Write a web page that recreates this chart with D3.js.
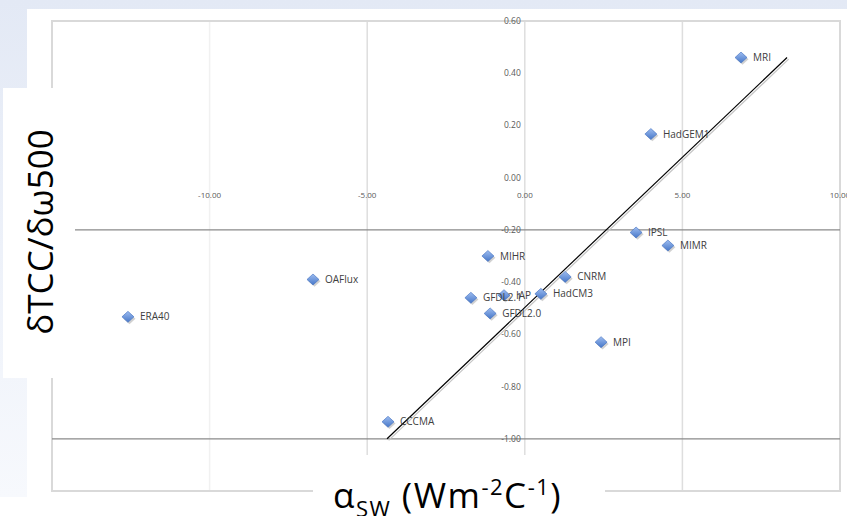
<!DOCTYPE html>
<html>
<head>
<meta charset="utf-8">
<script src="https://cdn.jsdelivr.net/npm/d3@7/dist/d3.min.js"></script>
<style>
  html, body { margin: 0; padding: 0; background: #fff; }
  svg { display: block; }
</style>
</head>
<body>
<div id="chart"></div>
<script>
// model names and values
var models = ["MRI", "HadGEM1", "IPSL", "MIMR", "MIHR", "OAFlux", "CNRM", "IAP", "GFDL2.1", "HadCM3", "GFDL2.0", "ERA40", "MPI", "CCCMA"];
var alphaSW = [6.86, 4.00, 3.53, 4.54, -1.17, -6.72, 1.28, -0.66, -1.71, 0.51, -1.10, -12.59, 2.42, -4.34];
var dTCC = [0.46, 0.167, -0.21, -0.26, -0.30, -0.39, -0.38, -0.45, -0.46, -0.445, -0.52, -0.533, -0.63, -0.935];

// trend line end points
var trendX = [-4.37, 8.32];
var trendY = [-1.00, 0.46];

var xTicks = [-10, -5, 0, 5, 10];
var yTicks = [0.6, 0.4, 0.2, 0.0, -0.2, -0.4, -0.6, -0.8, -1.0];
var refLines = [-0.2, -1.0];

var width = 847
var height = 516

var svg = d3.select("#chart")
  .append("svg")
    .attr("width", width)
    .attr("height", height)

var defs = svg.append("defs")

// pale blue slide background on the top left
var bg = defs.append("linearGradient").attr("id", "bg").attr("x1", 0).attr("y1", 0).attr("x2", 0).attr("y2", 1)
bg.append("stop").attr("offset", "0%").attr("stop-color", "#e3e9f5")
bg.append("stop").attr("offset", "100%").attr("stop-color", "#f7f9fd")

var dia = defs.append("linearGradient").attr("id", "dia").attr("x1", 0).attr("y1", 0).attr("x2", 0).attr("y2", 1)
dia.append("stop").attr("offset", "0%").attr("stop-color", "#9dbcf0")
dia.append("stop").attr("offset", "100%").attr("stop-color", "#4677c8")

svg.append("rect").attr("x", 0).attr("y", 0).attr("width", width).attr("height", 497).attr("fill", "url(#bg)")
svg.append("rect").attr("x", 27).attr("y", 9).attr("width", width - 27).attr("height", 497).attr("fill", "#fff")

// scales
var x = d3.scaleLinear().domain([-15, 10]).range([52, 840])
var y = d3.scaleLinear().domain([-1.2, 0.6]).range([491, 21])

var plot = svg.append("g")

// vertical gridlines
plot.selectAll(".vgrid")
  .data(xTicks)
  .enter()
  .append("line")
    .attr("x1", function(d){ return x(d) })
    .attr("x2", function(d){ return x(d) })
    .attr("y1", y(0.6))
    .attr("y2", y(-1.2))
    .attr("stroke", function(d){ return d == -10 ? "#f1f1f1" : "#dedede" })
    .attr("stroke-width", 1.5)

// plot border
plot.append("rect")
  .attr("x", x(-15))
  .attr("y", y(0.6))
  .attr("width", x(10) - x(-15))
  .attr("height", y(-1.2) - y(0.6))
  .attr("fill", "none")
  .attr("stroke", "#d9d9d9")
  .attr("stroke-width", 2)

// the two darker horizontal lines
plot.selectAll(".ref")
  .data(refLines)
  .enter()
  .append("line")
    .attr("x1", x(-15))
    .attr("x2", x(10))
    .attr("y1", function(d){ return y(d) })
    .attr("y2", function(d){ return y(d) })
    .attr("stroke", "#8a8a8a")
    .attr("stroke-width", 1.3)

// y tick labels next to x = 0
plot.selectAll(".ylab")
  .data(yTicks)
  .enter()
  .append("text")
    .attr("x", x(0) - 4)
    .attr("y", function(d){ return y(d) })
    .attr("dy", "0.35em")
    .attr("text-anchor", "end")
    .style("font-family", '"Open Sans", sans-serif')
    .style("font-size", "8.5px")
    .attr("fill", "#595959")
    .text(function(d){ return d3.format(".2f")(d).replace("−", "-") })

// x tick labels just under y = 0
plot.selectAll(".xlab")
  .data(xTicks)
  .enter()
  .append("text")
    .attr("x", function(d){ return x(d) })
    .attr("y", y(0) + 20)
    .attr("text-anchor", "middle")
    .style("font-family", '"Open Sans", sans-serif')
    .style("font-size", "8px")
    .attr("fill", "#595959")
    .text(function(d){ return d3.format(".2f")(d).replace("−", "-") })

// trend line with its light shadow
var trend = d3.line()
  .x(function(d){ return x(d[0]) })
  .y(function(d){ return y(d[1]) })
var trendPts = d3.zip(trendX, trendY)
plot.append("path")
  .attr("d", trend(trendPts))
  .attr("transform", "translate(1.6,1.6)")
  .attr("stroke", "#c4c4c4")
  .attr("stroke-width", 1.2)
  .attr("fill", "none")
plot.append("path")
  .attr("d", trend(trendPts))
  .attr("stroke", "#000")
  .attr("stroke-width", 1.2)
  .attr("fill", "none")

var points = d3.range(models.length).map(function(i){
  return {name: models[i], a: alphaSW[i], t: dTCC[i]}
})

var diamond = "M0,-5.5L6,0L0,5.5L-6,0Z"

// shadow
plot.selectAll(".shadow")
  .data(points)
  .enter()
  .append("path")
    .attr("d", diamond)
    .attr("transform", function(d){ return "translate(" + (x(d.a) + 1.5) + "," + (y(d.t) + 1.8) + ")" })
    .attr("fill", "#9a9a9a")
    .attr("opacity", 0.45)

plot.selectAll(".pt")
  .data(points)
  .enter()
  .append("path")
    .attr("d", diamond)
    .attr("transform", function(d){ return "translate(" + x(d.a) + "," + y(d.t) + ")" })
    .attr("fill", "url(#dia)")
    .attr("stroke", "#3f6fbf")
    .attr("stroke-width", 0.6)

plot.selectAll(".lab")
  .data(points)
  .enter()
  .append("text")
    .attr("x", function(d){ return x(d.a) + 12 })
    .attr("y", function(d){ return y(d.t) })
    .attr("dy", "0.35em")
    .style("font-family", '"Open Sans", sans-serif')
    .style("font-size", "10px")
    .attr("fill", "#404040")
    .text(function(d){ return d.name })

// white boxes behind the axis titles
svg.append("rect").attr("x", 3).attr("y", 88).attr("width", 72).attr("height", 290).attr("fill", "#fff")
svg.append("rect").attr("x", 313).attr("y", 455).attr("width", 292).attr("height", 61).attr("fill", "#fff")

svg.append("text")
  .attr("transform", "translate(53,232) rotate(-90)")
  .attr("text-anchor", "middle")
  .style("font-family", '"Open Sans", sans-serif')
  .style("font-size", "35px")
  .attr("fill", "#000")
  .text("δTCC/δω500")

var xt = svg.append("text")
  .attr("x", 333)
  .attr("y", 508)
  .style("font-family", '"Open Sans", sans-serif')
  .style("font-size", "35px")
  .style("letter-spacing", "1.5px")
  .attr("fill", "#000")
xt.append("tspan").text("α")
xt.append("tspan").attr("dy", 9).style("font-size", "22px").text("SW")
xt.append("tspan").attr("dy", -9).text(" (Wm")
xt.append("tspan").attr("dy", -13).style("font-size", "22px").text("-2")
xt.append("tspan").attr("dy", 13).text("C")
xt.append("tspan").attr("dy", -13).style("font-size", "22px").text("-1")
xt.append("tspan").attr("dy", 13).text(")")
</script>
</body>
</html>
